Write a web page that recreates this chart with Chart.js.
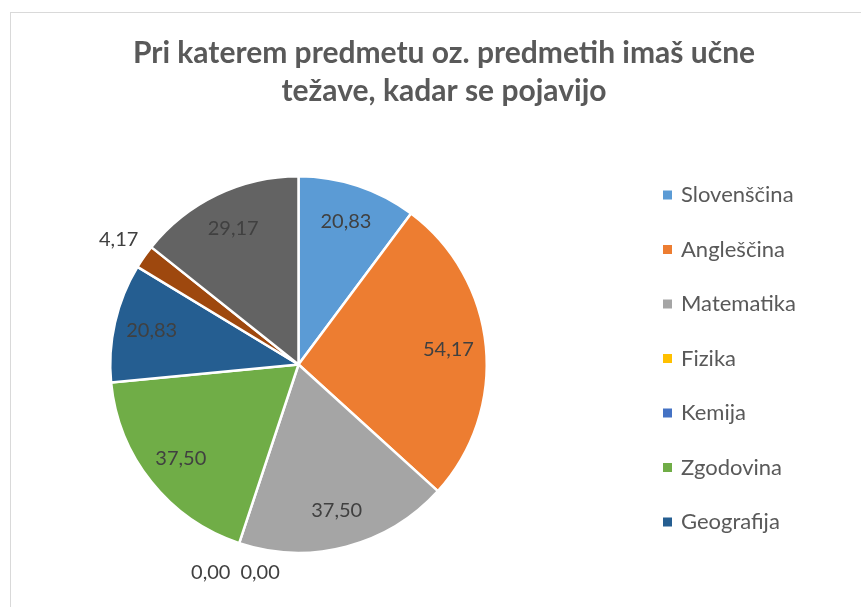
<!DOCTYPE html>
<html>
<head>
<meta charset="utf-8">
<script src="https://cdn.jsdelivr.net/npm/chart.js@4.4.1/dist/chart.umd.min.js"></script>
<style>
  html, body { margin: 0; padding: 0; background: #fff; overflow: hidden; }
  .chart-frame { position: absolute; left: 10px; top: 12px; width: 866px; height: 610px; border: 1px solid #d9d9d9; }
  canvas { display: block; }
</style>
</head>
<body>
<div class="chart-frame"><canvas id="pieChart" width="866" height="610"></canvas></div>
<script>
const titleLines = ['Pri katerem predmetu oz. predmetih imaš učne', 'težave, kadar se pojavijo'];
// the last two categories have no visible legend entry in the original
const subjects = ['Slovenščina', 'Angleščina', 'Matematika', 'Fizika', 'Kemija', 'Zgodovina', 'Geografija', '', ''];
const percentages = [20.83, 54.17, 37.50, 0.00, 0.00, 37.50, 20.83, 4.17, 29.17];
const sliceColors = ['#5b9bd5', '#ed7d31', '#a5a5a5', '#ffc000', '#4472c4', '#70ad47', '#255e91', '#9e480e', '#636363'];
const legendCount = 7;

const fontFamily = 'Lato, "Open Sans", sans-serif';

// title drawn centred over the whole frame (not the pie area)
const frameTitle = {
    id: 'frameTitle',
    afterDraw(chart) {
        const ctx = chart.ctx;
        ctx.save();
        ctx.font = 'bold 30px ' + fontFamily;
        ctx.fillStyle = '#595959';
        ctx.textAlign = 'center';
        ctx.textBaseline = 'alphabetic';
        titleLines.forEach((line, i) => {
            ctx.fillText(line, chart.width / 2, 50 + i * 38);
        });
        ctx.restore();
    }
};

// value labels, inside big slices and outside small ones
const sliceLabels = {
    id: 'sliceLabels',
    afterDatasetsDraw(chart) {
        const ctx = chart.ctx;
        const meta = chart.getDatasetMeta(0);
        const values = chart.data.datasets[0].data;
        ctx.save();
        ctx.font = '20px ' + fontFamily;
        ctx.fillStyle = '#404040';
        ctx.textAlign = 'center';
        ctx.textBaseline = 'middle';
        const outside = [];
        meta.data.forEach((arc, i) => {
            const p = arc.getProps(['x', 'y', 'startAngle', 'endAngle', 'outerRadius']);
            const mid = (p.startAngle + p.endAngle) / 2;
            const text = values[i].toFixed(2).replace('.', ',');
            if (values[i] >= 10) {
                const r = p.outerRadius * 0.8;
                ctx.fillText(text, p.x + Math.cos(mid) * r, p.y + Math.sin(mid) * r);
            } else {
                const r = p.outerRadius + 31;
                const last = outside[outside.length - 1];
                if (last && Math.abs(last.mid - mid) < 0.01) {
                    last.texts.push(text);
                } else {
                    outside.push({ mid, x: p.x + Math.cos(mid) * r, y: p.y + Math.sin(mid) * r, texts: [text] });
                }
            }
        });
        outside.forEach(g => {
            const gap = 10;
            const widths = g.texts.map(t => ctx.measureText(t).width);
            const total = widths.reduce((a, b) => a + b, 0) + gap * (widths.length - 1);
            let x = g.x - total / 2 + (g.texts.length > 1 ? 6 : 0);
            g.texts.forEach((t, k) => {
                ctx.fillText(t, x + widths[k] / 2, g.y);
                x += widths[k] + gap;
            });
        });
        ctx.restore();
    }
};

// legend on the right, only the first entries like the original
const sideLegend = {
    id: 'sideLegend',
    afterDraw(chart) {
        const ctx = chart.ctx;
        const area = chart.chartArea;
        const x = area.right + 175;
        const cy = (area.top + area.bottom) / 2 - 6;
        const step = 54.5;
        ctx.save();
        ctx.font = '22px ' + fontFamily;
        ctx.textAlign = 'left';
        ctx.textBaseline = 'middle';
        for (let i = 0; i < legendCount; i++) {
            const y = cy + (i - (legendCount - 1) / 2) * step;
            ctx.fillStyle = sliceColors[i];
            ctx.fillRect(x, y - 4.5, 9, 9);
            ctx.fillStyle = '#595959';
            ctx.fillText(subjects[i], x + 18, y);
        }
        ctx.restore();
    }
};

const ctx = document.getElementById('pieChart').getContext('2d');
const pieChart = new Chart(ctx, {
    type: 'pie',
    data: {
        labels: subjects,
        datasets: [{
            data: percentages,
            backgroundColor: sliceColors,
            borderColor: '#ffffff',
            borderWidth: 2.5,
            hoverOffset: 0,
            hoverBorderWidth: 2.5
        }]
    },
    options: {
        responsive: false,
        animation: false,
        layout: {
            padding: { top: 162, bottom: 69, left: 98, right: 389 }
        },
        plugins: {
            legend: { display: false },
            title: { display: false },
            tooltip: { enabled: false }
        }
    },
    plugins: [sliceLabels, sideLegend, frameTitle]
});
</script>
</body>
</html>
